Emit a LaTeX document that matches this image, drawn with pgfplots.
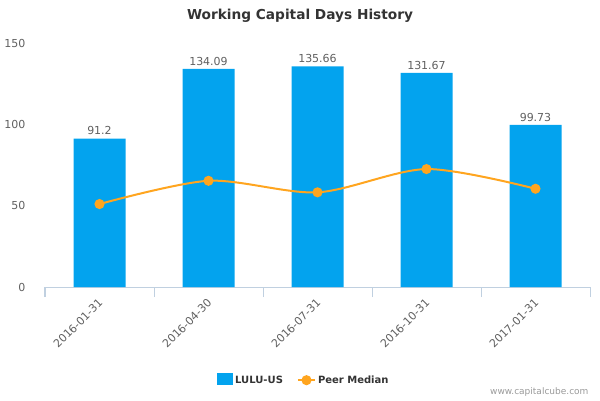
\documentclass[border=0pt]{standalone}
\usepackage{pgfplots}
\pgfplotsset{compat=1.18}
\usepackage{fontspec}
\setmainfont{DejaVu Sans}
\definecolor{barblue}{HTML}{03A3EE}
\definecolor{peerorange}{HTML}{FFA51F}
\definecolor{axisline}{HTML}{C0D0E0}
\definecolor{ticktext}{HTML}{606060}
\definecolor{titletext}{HTML}{333333}

\begin{document}
\begin{tikzpicture}
\path[use as bounding box] (-45pt,-113pt) rectangle (555pt,287pt);
\begin{axis}[
    at={(0pt,0pt)}, anchor=south west,
    scale only axis, width=545pt, height=244pt,
    xmin=-0.5, xmax=4.5, ymin=0, ymax=150,
    /pgf/number format/assume math mode=true,
    axis x line*=bottom, axis y line*=left,
    x axis line style={draw=axisline, line width=1pt},
    y axis line style={draw=none},
    tick align=outside,
    major tick length=10pt,
    xtick={-0.5,0.5,1.5,2.5,3.5,4.5}, xticklabels={},
    xtick style={draw=axisline, line width=1pt},
    extra x ticks={0,1,2,3,4},
    extra x tick labels={2016-01-31,2016-04-30,2016-07-31,2016-10-31,2017-01-31},
    extra x tick style={major tick length=0pt},
    xticklabel style={rotate=45, anchor=north east, font=\fontsize{11}{13}\selectfont,
        text=ticktext, xshift=-5.5pt, yshift=-2.8pt},
    ytick={0,50,100,150},
    ytick style={draw=none},
    yticklabel style={font=\fontsize{11}{13}\selectfont, text=ticktext, xshift=-6pt},
    legend style={at={(0.475,-0.381)}, anchor=center, draw=none,
        font=\bfseries\fontsize{10}{12}\selectfont, text=titletext,
        /tikz/every even column/.append style={column sep=12pt}},
    legend columns=2,
]
\addplot[ybar, bar width=52pt, bar shift=0pt, fill=barblue, draw=none,
    nodes near coords,
    nodes near coords style={font=\fontsize{11}{13}\selectfont, text=ticktext},
    legend image code/.code={\fill[barblue] (0pt,-5pt) rectangle (16pt,7pt);}]
coordinates {(0,91.2) (1,134.09) (2,135.66) (3,131.67) (4,99.73)};
\addlegendentry{LULU-US}
\addplot[peerorange, line width=2pt, smooth, mark=*, mark size=4pt,
    mark options={fill=peerorange, draw=none}]
coordinates {(0,51.0) (1,65.3) (2,58.2) (3,72.5) (4,60.4)};
\addlegendentry{Peer Median}
\end{axis}
\node[font=\bfseries\fontsize{13.7}{16}\selectfont, text=titletext] at (255pt,271pt) {Working Capital Days History};
\node[anchor=east, font=\fontsize{9}{11}\selectfont, text=gray!80] at (547pt,-105pt) {www.capitalcube.com};
\end{tikzpicture}
\end{document}
